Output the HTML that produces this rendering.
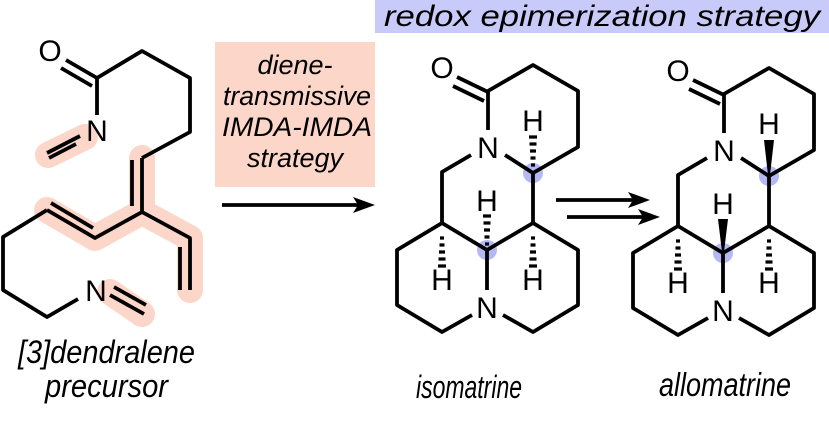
<!DOCTYPE html>
<html><head><meta charset="utf-8"><style>
html,body{margin:0;padding:0;background:#fff;}
svg{display:block;}
text{font-family:"Liberation Sans",sans-serif;font-style:italic;}
.b{stroke:#000;stroke-width:3.8;fill:none;stroke-linejoin:round;stroke-linecap:butt;}
.hl{stroke:#fcd6c8;stroke-width:26;fill:none;stroke-linecap:round;stroke-linejoin:round;}
.at{font-style:normal;font-size:30px;fill:#000;}
</style></head><body>
<svg width="829" height="423" viewBox="0 0 829 423" xmlns="http://www.w3.org/2000/svg">
<rect x="215" y="42" width="160" height="145" fill="#fcd6c8"/>
<rect x="375" y="0" width="454" height="33" fill="#c8cbfa"/>
<text x="384" y="26" font-size="30" textLength="436" lengthAdjust="spacingAndGlyphs">redox epimerization strategy</text>
<text x="295" y="74" font-size="27" text-anchor="middle">diene-</text>
<text x="297" y="105" font-size="27" text-anchor="middle" textLength="148" lengthAdjust="spacingAndGlyphs">transmissive</text>
<text x="297" y="136" font-size="27" text-anchor="middle" textLength="150" lengthAdjust="spacingAndGlyphs">IMDA-IMDA</text>
<text x="295" y="167" font-size="27" text-anchor="middle">strategy</text>

<path class="hl" d="M48 155 L85 137"/>
<path class="hl" d="M142 158 L142 212 L95 238 L47 210 M142 212 L190 238 L190 290"/>
<path class="hl" d="M110 292 L142 314"/>
<text class="at" x="50" y="61" text-anchor="middle">O</text>
<path class="b" d="M66 60 L97 78 M61 68 L92 86"/>
<path class="b" d="M97 78 L142 51 L190 78 L190 132 L142 158"/>
<path class="b" d="M97 78 L97 115"/>
<text class="at" x="97" y="141" text-anchor="middle">N</text>
<path class="b" d="M80 136 L47 153 M76 144 L49 158"/>
<path class="b" d="M142 158 L142 212 M132 160 L132 206"/>
<path class="b" d="M142 212 L95 238 L47 210 M93 228 L51 203"/>
<path class="b" d="M47 210 L3 237 L3 290 L47 317 L78 299"/>
<text class="at" x="96" y="301" text-anchor="middle">N</text>
<path class="b" d="M110 295 L144 314 M114 287 L146 305"/>
<path class="b" d="M142 212 L190 238 L190 290 M180 247 L180 290"/>

<path class="b" d="M222 205 L360 205"/>
<polygon points="375,205 353,197 358,205 353,213" fill="#000"/>
<path class="b" d="M556 200 L636 200 M567 217 L646 217"/>
<polygon points="650,200 628,192 633,200 628,208" fill="#000"/>
<polygon points="660,217 638,209 643,217 638,225" fill="#000"/>

<g>
<circle cx="533" cy="173" r="10" fill="#b4b9f5"/>
<circle cx="487" cy="250" r="10" fill="#b4b9f5"/>
<text class="at" x="442" y="78" text-anchor="middle">O</text>
<path class="b" d="M457 77 L488 92 M453 86 L484 101"/>
<path class="b" d="M488 91 L533 65 L578 91 L578 147 L533 173"/>
<path class="b" d="M488 91 L488 130"/>
<text class="at" x="488" y="158" text-anchor="middle">N</text>
<path class="b" d="M505 155 L533 173 M471 155 L442 172 L442 223"/>
<path class="b" d="M533 173 L533 223 L487 250 L442 223 L397 250 L397 305 L442 332 L472 315"/>
<path class="b" d="M533 223 L578 250 L578 305 L533 332 L503 315"/>
<path class="b" d="M487 250 L487 290"/>
<text class="at" x="487" y="318" text-anchor="middle">N</text>
<text class="at" x="533" y="131" text-anchor="middle">H</text>
<text class="at" x="487" y="211" text-anchor="middle">H</text>
<text class="at" x="442" y="290" text-anchor="middle">H</text>
<text class="at" x="533" y="290" text-anchor="middle">H</text>
</g>
<g stroke="#000" stroke-width="3.2">
<path d="M529 137h8M529.5 144h7M530 151h6M530.5 158h5M531 165h4"/>
<path d="M483 216h8M483.5 223h7M484 230h6M484.5 237h5M485 244h4"/>
<path d="M438 266h8M438.5 259h7M439 252h6M439.5 245h5M440 238h4"/>
<path d="M529 266h8M529.5 259h7M530 252h6M530.5 245h5M531 238h4"/>
</g>

<g transform="translate(236,3)">
<circle cx="533" cy="173" r="10" fill="#b4b9f5"/>
<circle cx="487" cy="250" r="10" fill="#b4b9f5"/>
<text class="at" x="442" y="78" text-anchor="middle">O</text>
<path class="b" d="M457 77 L488 92 M453 86 L484 101"/>
<path class="b" d="M488 91 L533 65 L578 91 L578 147 L533 173"/>
<path class="b" d="M488 91 L488 130"/>
<text class="at" x="488" y="158" text-anchor="middle">N</text>
<path class="b" d="M505 155 L533 173 M471 155 L442 172 L442 223"/>
<path class="b" d="M533 173 L533 223 L487 250 L442 223 L397 250 L397 305 L442 332 L472 315"/>
<path class="b" d="M533 223 L578 250 L578 305 L533 332 L503 315"/>
<path class="b" d="M487 250 L487 290"/>
<text class="at" x="487" y="318" text-anchor="middle">N</text>
<text class="at" x="533" y="131" text-anchor="middle">H</text>
<text class="at" x="487" y="211" text-anchor="middle">H</text>
<text class="at" x="442" y="290" text-anchor="middle">H</text>
<text class="at" x="533" y="290" text-anchor="middle">H</text>
<polygon points="528,137 538,137 534,172 532,172" fill="#000"/>
<polygon points="482,216 492,216 488,249 486,249" fill="#000"/>
<g stroke="#000" stroke-width="3.2">
<path d="M438 266h8M438.5 259h7M439 252h6M439.5 245h5M440 238h4"/>
<path d="M529 266h8M529.5 259h7M530 252h6M530.5 245h5M531 238h4"/>
</g>
</g>

<text x="18" y="363" font-size="32" textLength="177" lengthAdjust="spacingAndGlyphs">[3]dendralene</text>
<text x="45" y="397" font-size="32" textLength="123" lengthAdjust="spacingAndGlyphs">precursor</text>
<text x="416" y="398" font-size="32" textLength="106" lengthAdjust="spacingAndGlyphs">isomatrine</text>
<text x="659" y="396" font-size="33" textLength="132" lengthAdjust="spacingAndGlyphs">allomatrine</text>
</svg>
</body></html>
